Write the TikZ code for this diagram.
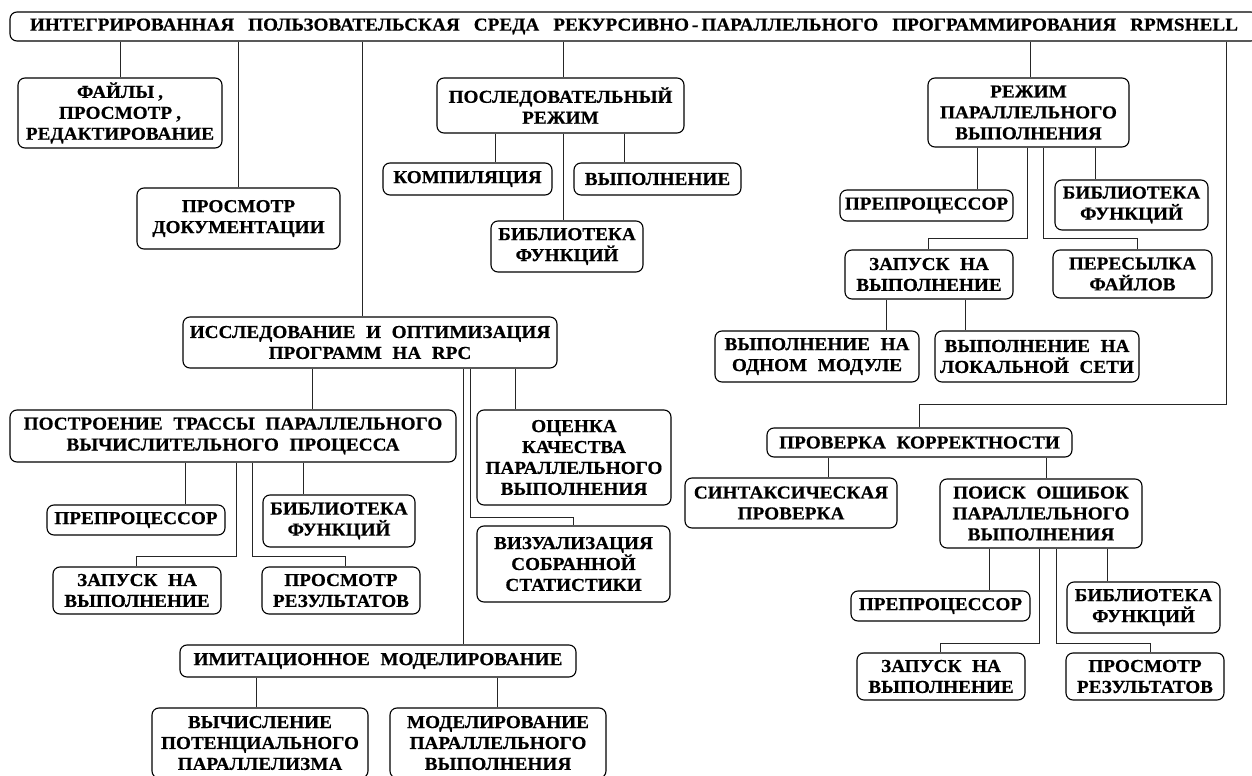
\documentclass[tikz,border=0pt]{standalone}
\usepackage{fontspec}
\setmainfont{Liberation Serif}[FakeStretch=1.05,LetterSpace=0.3,WordSpace={2.2},BoldFeatures={FakeBold=0.6}]
\begin{document}
\begin{tikzpicture}[x=1bp,y=-1bp,
  box/.style={draw=black, line width=1.1bp, rounded corners=7bp, inner sep=0pt, align=center,
    font=\bfseries\fontsize{18.3}{21}\selectfont},
  conn/.style={draw=black!85, line width=1bp}]
\clip (0,0) rectangle (1252,776);
% title
\node[box, minimum width=1248bp, minimum height=29bp] (t) at (634,26.5)
  {\makebox[1208bp][s]{ИНТЕГРИРОВАННАЯ ПОЛЬЗОВАТЕЛЬСКАЯ СРЕДА РЕКУРСИВНО\hspace{3bp}-\hspace{3bp}ПАРАЛЛЕЛЬНОГО ПРОГРАММИРОВАНИЯ RPMSHELL}};
% top row
\node[box, minimum width=204bp, minimum height=70bp] (fajl) at (120,113) {ФАЙЛЫ\hspace{4bp},\\ПРОСМОТР\hspace{4bp},\\РЕДАКТИРОВАНИЕ};
\node[box, minimum width=203bp, minimum height=61bp] (doc) at (238.5,218.5) {ПРОСМОТР\\ДОКУМЕНТАЦИИ};
\node[box, minimum width=247bp, minimum height=55bp] (seq) at (560.5,105.5) {ПОСЛЕДОВАТЕЛЬНЫЙ\\РЕЖИМ};
\node[box, minimum width=169bp, minimum height=32bp] (komp) at (467.5,179) {КОМПИЛЯЦИЯ};
\node[box, minimum width=167bp, minimum height=32bp] (vyp) at (657.5,179) {ВЫПОЛНЕНИЕ};
\node[box, minimum width=152bp, minimum height=51bp] (lib1) at (567,246.5) {БИБЛИОТЕКА\\ФУНКЦИЙ};
% parallel mode
\node[box, minimum width=201bp, minimum height=69bp] (par) at (1028.5,112.5) {РЕЖИМ\\ПАРАЛЛЕЛЬНОГО\\ВЫПОЛНЕНИЯ};
\node[box, minimum width=173bp, minimum height=31bp] (pre1) at (926.5,205.5) {ПРЕПРОЦЕССОР};
\node[box, minimum width=153bp, minimum height=50bp] (lib2) at (1131.5,205) {БИБЛИОТЕКА\\ФУНКЦИЙ};
\node[box, minimum width=168bp, minimum height=49bp] (zap1) at (929,274.5) {ЗАПУСК НА\\ВЫПОЛНЕНИЕ};
\node[box, minimum width=159bp, minimum height=48bp] (pers) at (1132.5,274) {ПЕРЕСЫЛКА\\ФАЙЛОВ};
\node[box, minimum width=204bp, minimum height=51bp] (mod1) at (817,356.5) {ВЫПОЛНЕНИЕ НА\\ОДНОМ МОДУЛЕ};
\node[box, minimum width=204bp, minimum height=51bp] (lan) at (1037,356.5) {ВЫПОЛНЕНИЕ НА\\ЛОКАЛЬНОЙ СЕТИ};
% correctness
\node[box, minimum width=305bp, minimum height=29bp] (prov) at (919.5,442.5) {ПРОВЕРКА КОРРЕКТНОСТИ};
\node[box, minimum width=212bp, minimum height=50bp] (sin) at (791,503) {СИНТАКСИЧЕСКАЯ\\ПРОВЕРКА};
\node[box, minimum width=202bp, minimum height=69bp] (poisk) at (1041,513.5) {ПОИСК ОШИБОК\\ПАРАЛЛЕЛЬНОГО\\ВЫПОЛНЕНИЯ};
\node[box, minimum width=179bp, minimum height=30bp] (pre2) at (940.5,606) {ПРЕПРОЦЕССОР};
\node[box, minimum width=153bp, minimum height=51bp] (lib3) at (1143.5,607.5) {БИБЛИОТЕКА\\ФУНКЦИЙ};
\node[box, minimum width=168bp, minimum height=47bp] (zap2) at (941,676.5) {ЗАПУСК НА\\ВЫПОЛНЕНИЕ};
\node[box, minimum width=158bp, minimum height=47bp] (res2) at (1145,676.5) {ПРОСМОТР\\РЕЗУЛЬТАТОВ};
% investigation
\node[box, minimum width=374bp, minimum height=51bp] (inv) at (370,342.5) {ИССЛЕДОВАНИЕ И ОПТИМИЗАЦИЯ\\ПРОГРАММ НА RPC};
\node[box, minimum width=446bp, minimum height=52bp] (trace) at (233,436) {ПОСТРОЕНИЕ ТРАССЫ ПАРАЛЛЕЛЬНОГО\\ВЫЧИСЛИТЕЛЬНОГО ПРОЦЕССА};
\node[box, minimum width=194bp, minimum height=95bp] (ocen) at (574,457.5) {ОЦЕНКА\\КАЧЕСТВА\\ПАРАЛЛЕЛЬНОГО\\ВЫПОЛНЕНИЯ};
\node[box, minimum width=193bp, minimum height=76bp] (vis) at (573.5,564) {ВИЗУАЛИЗАЦИЯ\\СОБРАННОЙ\\СТАТИСТИКИ};
\node[box, minimum width=178bp, minimum height=30bp] (pre3) at (136,520) {ПРЕПРОЦЕССОР};
\node[box, minimum width=152bp, minimum height=52bp] (lib4) at (339,521) {БИБЛИОТЕКА\\ФУНКЦИЙ};
\node[box, minimum width=168bp, minimum height=47bp] (zap3) at (137,590.5) {ЗАПУСК НА\\ВЫПОЛНЕНИЕ};
\node[box, minimum width=158bp, minimum height=47bp] (res3) at (341,590.5) {ПРОСМОТР\\РЕЗУЛЬТАТОВ};
\node[box, minimum width=396bp, minimum height=32bp] (imit) at (378,661) {ИМИТАЦИОННОЕ МОДЕЛИРОВАНИЕ};
\node[box, minimum width=216bp, minimum height=70bp] (calc) at (260,743) {ВЫЧИСЛЕНИЕ\\ПОТЕНЦИАЛЬНОГО\\ПАРАЛЛЕЛИЗМА};
\node[box, minimum width=216bp, minimum height=70bp] (modp) at (498,743) {МОДЕЛИРОВАНИЕ\\ПАРАЛЛЕЛЬНОГО\\ВЫПОЛНЕНИЯ};
% connectors from title
\draw[conn] (t.south -| 120,0) -- (fajl.north -| 120,0);
\draw[conn] (t.south -| 238,0) -- (doc.north -| 238,0);
\draw[conn] (t.south -| 362,0) -- (inv.north -| 362,0);
\draw[conn] (t.south -| 563,0) -- (seq.north -| 563,0);
\draw[conn] (t.south -| 1030,0) -- (par.north -| 1030,0);
\draw[conn] (t.south -| 1226,0) |- (919,404) -- (prov.north -| 919,0);
% sequential
\draw[conn] (seq.south -| 495,0) -- (komp.north -| 495,0);
\draw[conn] (seq.south -| 563,0) -- (lib1.north -| 563,0);
\draw[conn] (seq.south -| 624,0) -- (vyp.north -| 624,0);
% parallel
\draw[conn] (par.south -| 977,0) -- (pre1.north -| 977,0);
\draw[conn] (par.south -| 1027,0) |- (928,238) -- (zap1.north -| 928,0);
\draw[conn] (par.south -| 1043,0) |- (1137,238) -- (pers.north -| 1137,0);
\draw[conn] (par.south -| 1095,0) -- (lib2.north -| 1095,0);
\draw[conn] (zap1.south -| 886,0) -- (mod1.north -| 886,0);
\draw[conn] (zap1.south -| 965,0) -- (lan.north -| 965,0);
% correctness
\draw[conn] (prov.south -| 828,0) -- (sin.north -| 828,0);
\draw[conn] (prov.south -| 1046,0) -- (poisk.north -| 1046,0);
\draw[conn] (poisk.south -| 989,0) -- (pre2.north -| 989,0);
\draw[conn] (poisk.south -| 1039,0) |- (940,643) -- (zap2.north -| 940,0);
\draw[conn] (poisk.south -| 1056,0) |- (1150,643) -- (res2.north -| 1150,0);
\draw[conn] (poisk.south -| 1107,0) -- (lib3.north -| 1107,0);
% investigation
\draw[conn] (inv.south -| 312,0) -- (trace.north -| 312,0);
\draw[conn] (inv.south -| 463,0) -- (imit.north -| 463,0);
\draw[conn] (inv.south -| 470,0) |- (573,517) -- (vis.north -| 573,0);
\draw[conn] (inv.south -| 515,0) -- (ocen.north -| 515,0);
\draw[conn] (trace.south -| 185,0) -- (pre3.north -| 185,0);
\draw[conn] (trace.south -| 236,0) |- (136,556) -- (zap3.north -| 136,0);
\draw[conn] (trace.south -| 252,0) |- (345,556) -- (res3.north -| 345,0);
\draw[conn] (trace.south -| 303,0) -- (lib4.north -| 303,0);
\draw[conn] (imit.south -| 256,0) -- (calc.north -| 256,0);
\draw[conn] (imit.south -| 497,0) -- (modp.north -| 497,0);
\end{tikzpicture}
\end{document}
